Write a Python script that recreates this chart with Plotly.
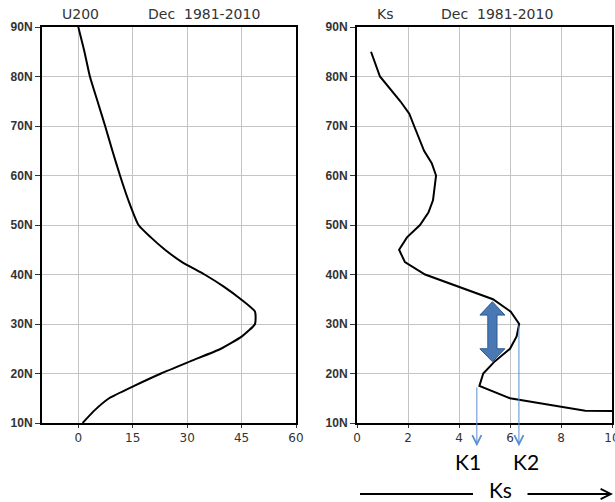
import plotly.graph_objects as go

W, H = 615, 502

# ---- data ----
u200_lat = [90, 85, 80, 75, 70, 65, 60, 55, 50, 47.5, 45, 42.5, 40, 37.5, 35, 32.5, 30, 27.5, 25, 22.5, 20, 17.5, 15, 12.5, 10]
u200_val = [0.0, 1.7, 3.2, 5.3, 7.4, 9.4, 11.5, 13.8, 16.6, 20.0, 23.9, 28.6, 34.8, 40.2, 44.8, 48.7, 48.7, 45.1, 39.3, 31.0, 22.8, 15.4, 8.5, 4.4, 1.2]

ks_lat = [85, 80, 75, 72.5, 70, 65, 62.5, 60, 55, 52.5, 50, 47.5, 45, 42.5, 40, 37.5, 35, 32.5, 30, 27.5, 25, 22.5, 20, 17.5, 15, 12.5, 12.4]
ks_val = [0.55, 0.9, 1.7, 2.05, 2.24, 2.63, 2.93, 3.1, 2.98, 2.8, 2.47, 1.96, 1.65, 1.88, 2.67, 4.04, 5.33, 6.03, 6.36, 6.26, 6.0, 5.41, 4.95, 4.8, 6.0, 8.95, 10.5]

lat_ticks = [10, 20, 30, 40, 50, 60, 70, 80, 90]
lat_labels = ["10N", "20N", "30N", "40N", "50N", "60N", "70N", "80N", "90N"]
u_ticks = [0, 15, 30, 45, 60]
ks_ticks = [0, 2, 4, 6, 8, 10]

k1_val, k1_lat = 4.7, 17.5
k2_val, k2_lat = 6.35, 30.0

# ---- layout geometry (pixels) ----
def px(x):
    return x / W

def py(y):
    return (H - y) / H

fig = go.Figure()
fig.add_trace(go.Scatter(x=u200_val, y=u200_lat, mode="lines",
                         line=dict(color="black", width=2, shape="spline", smoothing=0.5),
                         xaxis="x", yaxis="y", showlegend=False, hoverinfo="skip"))
fig.add_trace(go.Scatter(x=ks_val, y=ks_lat, mode="lines",
                         line=dict(color="black", width=2),
                         xaxis="x2", yaxis="y2", showlegend=False, hoverinfo="skip"))

grid = "#c4c4c4"
tickfont_y = dict(family="Liberation Sans", size=12, color="#333", weight="bold")
tickfont_x = dict(family="DejaVu Sans", size=12, color="#333")
common_y = dict(range=[10, 90], tickvals=lat_ticks, ticktext=lat_labels, showgrid=True,
                gridcolor=grid, gridwidth=1, showline=True, linecolor="black", linewidth=2,
                mirror=True, ticks="outside", ticklen=5, tickcolor="#333", tickwidth=1,
                tickfont=tickfont_y, zeroline=False, ticklabelstandoff=0, automargin=False,
                domain=[py(423), py(27)])
common_x = dict(showgrid=True, gridcolor=grid, gridwidth=1, showline=True, linecolor="black",
                linewidth=2, mirror=True, ticks="outside", ticklen=3, tickcolor="#333",
                tickfont=tickfont_x, zeroline=False, ticklabelstandoff=0, automargin=False,
                ticklabeloverflow="allow")

fig.update_layout(
    width=W, height=H, margin=dict(l=0, r=0, t=0, b=0, autoexpand=False),
    paper_bgcolor="white", plot_bgcolor="white",
    xaxis=dict(common_x, range=[-10, 60], tickvals=u_ticks, domain=[px(42), px(296)], anchor="y"),
    yaxis=dict(common_y, anchor="x"),
    xaxis2=dict(common_x, range=[0, 10], tickvals=ks_ticks, domain=[px(357), px(612)], anchor="y2"),
    yaxis2=dict(common_y, anchor="x2"),
)

title_font = dict(family="DejaVu Sans", size=14, color="#333")

def label(text, x, y, font):
    return dict(text=text, x=px(x), y=py(y), xref="paper", yref="paper", showarrow=False,
                xanchor="center", yanchor="middle", font=font)

ann = [
    label("U200", 80, 14, title_font),
    label("Dec  1981-2010", 204, 14, title_font),
    label("Ks", 385, 14, title_font),
    label("Dec  1981-2010", 497, 14, title_font),
]

blue = "#5b8fd0"
for kv, kl in [(k1_val, k1_lat), (k2_val, k2_lat)]:
    ann.append(dict(x=kv, y=5.3, xref="x2", yref="y2", ax=kv, ay=kl, axref="x2", ayref="y2",
                    showarrow=True, arrowhead=5, arrowsize=1.8, arrowwidth=1, arrowcolor=blue, text=""))

kfont = dict(family="Lato", size=21, color="black")
ann.append(label("K1", 468, 461, kfont))
ann.append(label("K2", 526, 461, kfont))
ann.append(label("Ks", 500, 489, kfont))
ann.append(dict(x=px(613), y=py(494), xref="paper", yref="paper", ax=-87, ay=0,
                showarrow=True, arrowhead=5, arrowsize=1.0, arrowwidth=2, arrowcolor="black", text=""))
fig.update_layout(annotations=ann)

# bottom line left of "Ks"
shapes = [dict(type="line", xref="paper", yref="paper", x0=px(360), x1=px(473), y0=py(494), y1=py(494),
               line=dict(color="black", width=2))]

# thick double arrow
cx, top, bot = 5.31, 34.5, 22.4
hw, sw = 0.49, 0.18
ht, hb = 31.8, 25.0
path = (f"M{cx},{top} L{cx+hw},{ht} L{cx+sw},{ht} L{cx+sw},{hb} L{cx+hw},{hb} L{cx},{bot} "
        f"L{cx-hw},{hb} L{cx-sw},{hb} L{cx-sw},{ht} L{cx-hw},{ht} Z")
shapes.append(dict(type="path", path=path, xref="x2", yref="y2", fillcolor="#4a78b4",
                   line=dict(color="#2f5a8f", width=1)))
fig.update_layout(shapes=shapes)

fig.write_html("out.html",
               post_script="document.body.style.margin='0';document.body.style.overflow='hidden';")
